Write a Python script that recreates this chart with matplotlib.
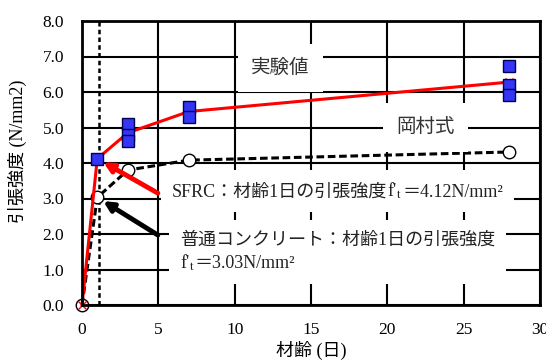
import numpy as np
import matplotlib
matplotlib.use('Agg')
import matplotlib.pyplot as plt
from matplotlib.offsetbox import TextArea, HPacker, VPacker, AnnotationBbox

plt.rcParams['font.family'] = ['Liberation Serif', 'Noto Sans CJK JP']
plt.rcParams['mathtext.fontset'] = 'stix'

# SFRC 実験値 (供試体ごと)
sfrc_age = [1, 3, 3, 3, 7, 7, 28, 28, 28]
sfrc_test = [4.12, 5.10, 4.78, 4.62, 5.59, 5.30, 6.73, 6.20, 5.91]
# SFRC 平均値
mean_age = [0, 1, 3, 7, 28]
sfrc_mean = [0.0, 4.12, 4.85, 5.45, 6.28]
# 普通コンクリート 岡村式
plain_age = [0, 1, 3, 7, 28]
plain_calc = [0.0, 3.03, 3.80, 4.08, 4.31]
day1_line = 1.1

xticks = [0, 5, 10, 15, 20, 25, 30]
yticks = [0, 1, 2, 3, 4, 5, 6, 7, 8]

fig = plt.figure(figsize=(5.46, 3.6), dpi=100)
ax = fig.add_axes([82/546, 55/360, 458/546, 284/360])

ax.set_xlim(0, 30)
ax.set_ylim(0, 8)
ax.set_xticks(xticks)
ax.set_yticks(yticks)
ax.set_yticklabels(['%.1f' % v for v in yticks])
ax.tick_params(length=0, labelsize=12.5)
ax.tick_params(axis='y', pad=13)
ax.tick_params(axis='x', pad=12)
ax.grid(True, color='black', lw=1.5, zorder=0.5)
ax.set_axisbelow(True)
for s in ax.spines.values():
    s.set_linewidth(2)
    s.set_zorder(10)

ax.axvline(day1_line, color='black', lw=1.8, ls=(0, (1.8, 1.3)), zorder=2)

# 岡村式 (普通コンクリート)
ax.plot(plain_age, plain_calc, color='black', lw=2.2, ls=(0, (2.5, 1.2)),
        marker='o', ms=9, mfc='white', mec='black', mew=1, zorder=3, clip_on=False)
# SFRC 平均
ax.plot(mean_age, sfrc_mean, color='red', lw=2.2, marker='x', ms=6, mew=1,
        zorder=4, clip_on=False)
# 実験値
ax.plot(sfrc_age, sfrc_test, ls='none', marker='s', ms=9, mfc='#3535F5',
        mec='#000050', mew=1, zorder=5)

jp = dict(family=['Liberation Serif', 'Noto Sans CJK JP'], size=13, color='#222222')
ax.text(13.0, 6.68, '実験値', fontdict=dict(family='Noto Sans CJK JP', size=14),
        color='#333333', ha='center', va='center', zorder=6,
        bbox=dict(boxstyle='square,pad=0.7', fc='white', ec='none'))
ax.text(22.5, 5.0, '岡村式', fontdict=dict(family='Noto Sans CJK JP', size=14),
        color='#333333', ha='center', va='center', zorder=6,
        bbox=dict(boxstyle='square,pad=0.7', fc='white', ec='none'))


def ft_line(value):
    return [TextArea(r"f'$_{\mathrm{t}}$", textprops=jp),
            TextArea('＝%.2fN/mm²' % value, textprops=jp)]


sfrc_box = HPacker(children=[TextArea('SFRC：材齢1日の引張強度', textprops=jp)]
                   + ft_line(sfrc_mean[1]), align='baseline', pad=0, sep=0)
plain_box = VPacker(children=[TextArea('普通コンクリート：材齢1日の引張強度', textprops=jp),
                              HPacker(children=ft_line(plain_calc[1]), align='baseline', pad=0, sep=0)],
                    align='left', pad=0, sep=3)

for box, xy in [(sfrc_box, (5.9, 3.21)), (plain_box, (6.4, 1.49))]:
    ab = AnnotationBbox(box, xy, xycoords='data', box_alignment=(0, 0.5), fontsize=13,
                        bboxprops=dict(boxstyle='square,pad=0.6', fc='white', ec='none'),
                        zorder=6)
    ax.add_artist(ab)

# 矢印
ax.annotate('', xy=(mean_age[1], sfrc_mean[1]), xytext=(4.97, 3.15),
            arrowprops=dict(arrowstyle='-|>', color='red', lw=3.5, mutation_scale=14,
                            shrinkA=0, shrinkB=5), zorder=7)
ax.annotate('', xy=(plain_age[1], plain_calc[1]), xytext=(4.97, 1.97),
            arrowprops=dict(arrowstyle='-|>', color='black', lw=3.5, mutation_scale=14,
                            shrinkA=0, shrinkB=5), zorder=7)

ax.set_ylabel('引張強度 (N/mm2)', fontsize=13)
ax.yaxis.set_label_coords(-0.12, 0.54)
ax.set_xlabel('材齢 (日)', fontsize=13)
ax.xaxis.set_label_coords(0.5, -0.125)

fig.savefig('out.png', dpi=100)
